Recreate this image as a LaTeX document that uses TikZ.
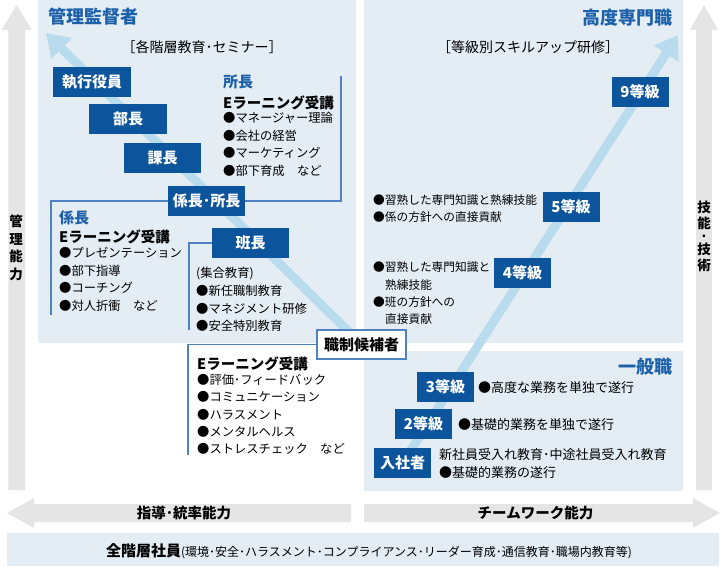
\documentclass[tikz,border=0pt]{standalone}
\usepackage{fontspec}
\setmainfont{Noto Sans CJK JP}
\usetikzlibrary{arrows.meta}
\definecolor{boxblue}{RGB}{12,84,155}
\definecolor{titleblue}{RGB}{28,96,170}
\definecolor{lineblue}{RGB}{80,130,195}
\definecolor{panel}{RGB}{228,236,244}
\definecolor{diag}{RGB}{184,219,237}
\definecolor{grayarrow}{RGB}{229,229,229}
\pgfdeclarelayer{bgpanel}
\pgfdeclarelayer{bgdiag}
\pgfsetlayers{bgpanel,bgdiag,main}
\tikzset{
  lvl/.style={fill=boxblue, text=white, font=\fontsize{15}{15}\selectfont\bfseries,
    minimum width=77.5pt, minimum height=30pt, inner sep=0pt},
  grd/.style={lvl, minimum width=57pt},
  cand/.style={fill=white, draw=lineblue, line width=1.2pt, text=black,
    font=\fontsize{15}{15}\selectfont\bfseries, minimum width=89pt, minimum height=29pt, inner sep=0pt},
  ttl/.style={text=titleblue, font=\fontsize{18}{18}\selectfont\bfseries, inner sep=0pt},
  sub/.style={text=titleblue, font=\fontsize{15}{15}\selectfont\bfseries, inner sep=0pt, anchor=west},
  elh/.style={font=\fontsize{14.5}{14.5}\selectfont\bfseries, inner sep=0pt, anchor=west},
  bul/.style={font=\fontsize{12.3}{12.3}\selectfont, inner sep=0pt, anchor=west},
  buls/.style={font=\fontsize{11.7}{11.7}\selectfont, inner sep=0pt, anchor=west},
  bulb/.style={font=\fontsize{13}{13}\selectfont, inner sep=0pt, anchor=west},
  brk/.style={font=\fontsize{14}{14}\selectfont, inner sep=0pt},
  conn/.style={draw=lineblue, line width=1.2pt},
  diagarrow/.style={draw=diag, line width=9pt, -{Triangle[length=22pt,width=28pt]}},
  axis/.style={fill=grayarrow},
  axtxt/.style={font=\fontsize{14.5}{14.5}\selectfont\bfseries, inner sep=0pt},
  vtxt/.style={font=\fontsize{13.5}{17.5}\selectfont\bfseries, inner sep=0pt, align=center},
  vtxts/.style={font=\fontsize{13.5}{16}\selectfont\bfseries, inner sep=0pt, align=center}
}
\begin{document}
\begin{tikzpicture}[x=1pt,y=-1pt]
\useasboundingbox (0,0) rectangle (721,567);

% ---------- panels ----------
\begin{pgfonlayer}{bgpanel}
\fill[panel] (38,0) rectangle (356,343);
\fill[panel] (364,0) rectangle (683,343);
\fill[panel] (364,351) rectangle (683,491);
\fill[panel] (7,533) rectangle (719,566);
% vertical axis arrows
\fill[axis] (8.3,490) -- (8.3,30) -- (1.7,30) -- (16.7,5) -- (31.7,30) -- (25.1,30) -- (25.1,490) -- cycle;
\fill[axis] (696,490) -- (696,30) -- (690,30) -- (704,5) -- (718,30) -- (712,30) -- (712,490) -- cycle;
% horizontal axis arrows
\fill[axis] (351,504) -- (34,504) -- (34,498) -- (7,513) -- (34,528) -- (34,522) -- (351,522) -- cycle;
\fill[axis] (364,504) -- (693,504) -- (693,498) -- (720,513) -- (693,528) -- (693,522) -- (364,522) -- cycle;
\end{pgfonlayer}

% ---------- titles ----------
\node[ttl, anchor=west] (kanrititle) at (48,17) {管理監督者};
\node[brk] (kaisou) at (202,47) {［各階層教育･セミナー］};
\node[ttl, anchor=east] (koudotitle) at (673,18) {高度専門職};
\node[brk] (toukyu) at (528,47) {［等級別スキルアップ研修］};
\node[ttl, anchor=east] (ippantitle) at (673,367) {一般職};

% ---------- management boxes ----------
\node[lvl] (shikko) at (92,82) {執行役員};
\node[lvl] (bucho) at (128,119) {部長};
\node[lvl] (kacho) at (162.5,158) {課長};
\node[lvl] (kakaricho) at (206.5,201) {係長･所長};
\node[lvl] (hancho) at (250.5,243) {班長};
\node[cand] (kouho) at (361.5,344.5) {職制候補者};

% ---------- grade boxes ----------
\node[grd] (g9) at (640,92) {9等級};
\node[grd] (g5) at (571,207) {5等級};
\node[grd] (g4) at (522.5,273) {4等級};
\node[grd] (g3) at (445.5,387) {3等級};
\node[grd] (g2) at (423.5,424) {2等級};
\node[grd] (nyusha) at (402.5,463) {入社者};

% ---------- diagonal arrows ----------
\coordinate (ltip) at (46,33);
\coordinate (rtip) at (678,35);
\begin{pgfonlayer}{bgdiag}
\draw[diagarrow] (kouho.center) -- (ltip);
\draw[diagarrow] (nyusha.center) -- (rtip);
\end{pgfonlayer}

% ---------- brackets ----------
\coordinate (sA) at (341,201);
\coordinate (sB) at (341,76);
\draw[conn] (kakaricho.east) -- (sA) -- (sB);
\coordinate (kA) at (51,201);
\coordinate (kB) at (51,315);
\draw[conn] (kakaricho.west) -- (kA) -- (kB);
\coordinate (hA) at (189,243);
\coordinate (hB) at (189,330);
\draw[conn] (hancho.west) -- (hA) -- (hB);
\coordinate (eA) at (188,344.5);
\coordinate (eB) at (188,455);
\draw[conn] (kouho.west) -- (eA) -- (eB);

% ---------- 所長 block ----------
\node[sub] (shochoH) at (223,82) {所長};
\node[elh] (shochoE) at (223,103) {Eラーニング受講};
\foreach \t [count=\i from 0] in {●マネージャー理論,●会社の経営,●マーケティング,●部下育成　など}
  \node[bul] (shochoB\i) at (223,{118+17.6*\i}) {\t};

% ---------- 係長 block ----------
\node[sub] (kakariH) at (59,218) {係長};
\node[elh] (kakariE) at (59,237) {Eラーニング受講};
\foreach \t [count=\i from 0] in {●プレゼンテーション,●部下指導,●コーチング,●対人折衝　など}
  \node[bul] (kakariB\i) at (59,{253+17.6*\i}) {\t};

% ---------- 班長 block ----------
\foreach \t [count=\i from 0] in {(集合教育),●新任職制教育,●マネジメント研修,●安全特別教育}
  \node[bul] (hanB\i) at (196,{274+17.3*\i}) {\t};

% ---------- 職制候補者 block ----------
\node[elh] (kouhoE) at (197,364) {Eラーニング受講};
\foreach \t [count=\i from 0] in {●評価･フィードバック,●コミュニケーション,●ハラスメント,●メンタルヘルス,●ストレスチェック　など}
  \node[bul] (kouhoB\i) at (197,{380+17.25*\i}) {\t};

% ---------- grade texts ----------
\node[buls] (g5a) at (373,200) {●習熟した専門知識と熟練技能};
\node[buls] (g5b) at (373,217) {●係の方針への直接貢献};
\node[buls] (g4a) at (373,267) {●習熟した専門知識と};
\node[buls] (g4b) at (385,285) {熟練技能};
\node[buls] (g4c) at (373,302) {●班の方針への};
\node[buls] (g4d) at (385,319) {直接貢献};
\node[bulb] (g3a) at (478,388) {●高度な業務を単独で遂行};
\node[bulb] (g2a) at (458,425) {●基礎的業務を単独で遂行};
\node[bulb] (nya) at (439,455) {新社員受入れ教育･中途社員受入れ教育};
\node[bulb] (nyb) at (439,473) {●基礎的業務の遂行};

% ---------- axis labels ----------
\node[vtxt] (kanrinoryoku) at (16,248) {管\\理\\能\\力};
\node[vtxts] (gino) at (704,236) {技\\能\\[-3pt]･\\[-3pt]技\\術};
\node[axtxt] (shido) at (184,513) {指導･統率能力};
\node[axtxt] (team) at (535.5,513) {チームワーク能力};

% ---------- bottom band ----------
\node[inner sep=0pt] (zenkai) at (369,551) {{\fontsize{15}{15}\selectfont\bfseries 全階層社員}{\fontsize{12}{12}\selectfont (環境･安全･ハラスメント･コンプライアンス･リーダー育成･通信教育･職場内教育等)}};
\end{tikzpicture}
\end{document}
